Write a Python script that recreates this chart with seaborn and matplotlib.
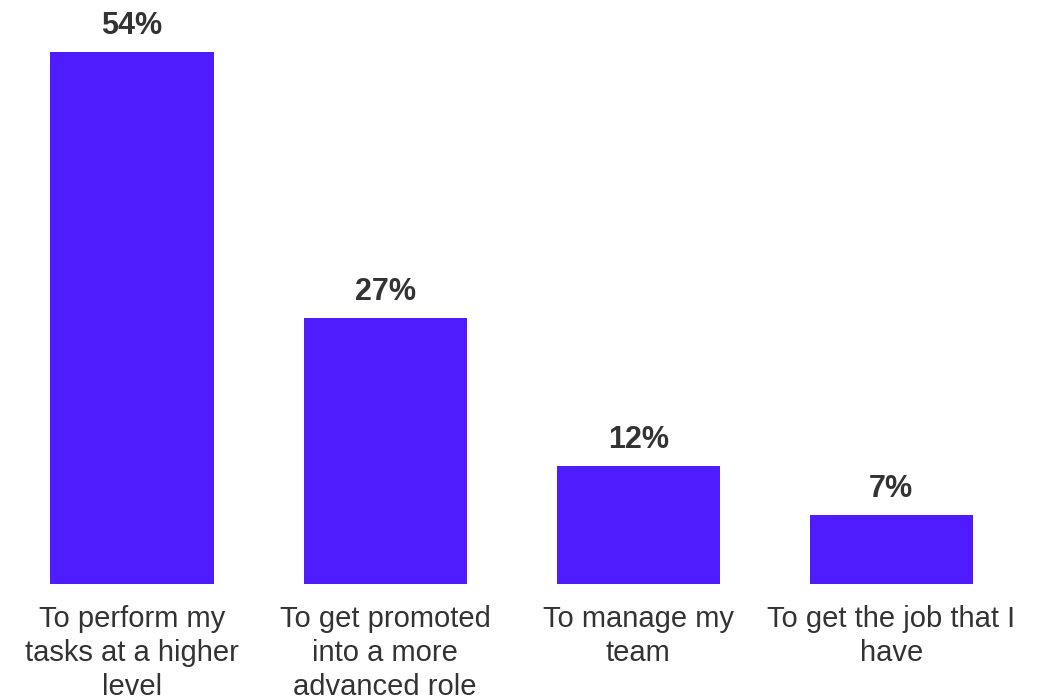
import matplotlib
matplotlib.use("Agg")
import matplotlib.pyplot as plt
import seaborn as sns
import pandas as pd

categories = [
    "To perform my\ntasks at a higher\nlevel",
    "To get promoted\ninto a more\nadvanced role",
    "To manage my\nteam",
    "To get the job that I\nhave",
]
shares = [54, 27, 12, 7]

bar_color = "#4F1BFF"
text_color = "#333333"

sns.set_theme(style="white")
plt.rcParams["font.family"] = ["Liberation Sans", "DejaVu Sans"]

df = pd.DataFrame({"reason": categories, "share": shares})

fig = plt.figure(figsize=(10.46, 6.98), dpi=100)
ax = fig.add_axes([0.0, 0.1633, 1.0, 0.8367])

sns.barplot(data=df, x="reason", y="share", color=bar_color, saturation=1,
            width=0.645, linewidth=0, ax=ax)

ax.set_xlim(-0.522, 3.612)
ax.set_ylim(0, 59.28)

for container in ax.containers:
    ax.bar_label(container, labels=[f"{v}%" for v in shares], padding=8,
                 fontsize=22, fontweight="bold", color=text_color)

ax.set_xlabel("")
ax.set_ylabel("")
ax.set_yticks([])
ax.tick_params(axis="x", length=0, pad=15, labelsize=21, labelcolor=text_color)
for lbl in ax.get_xticklabels():
    lbl.set_horizontalalignment("center")
    lbl.set_linespacing(1.27)
sns.despine(ax=ax, left=True, bottom=True)

fig.savefig("out.png", dpi=100)
